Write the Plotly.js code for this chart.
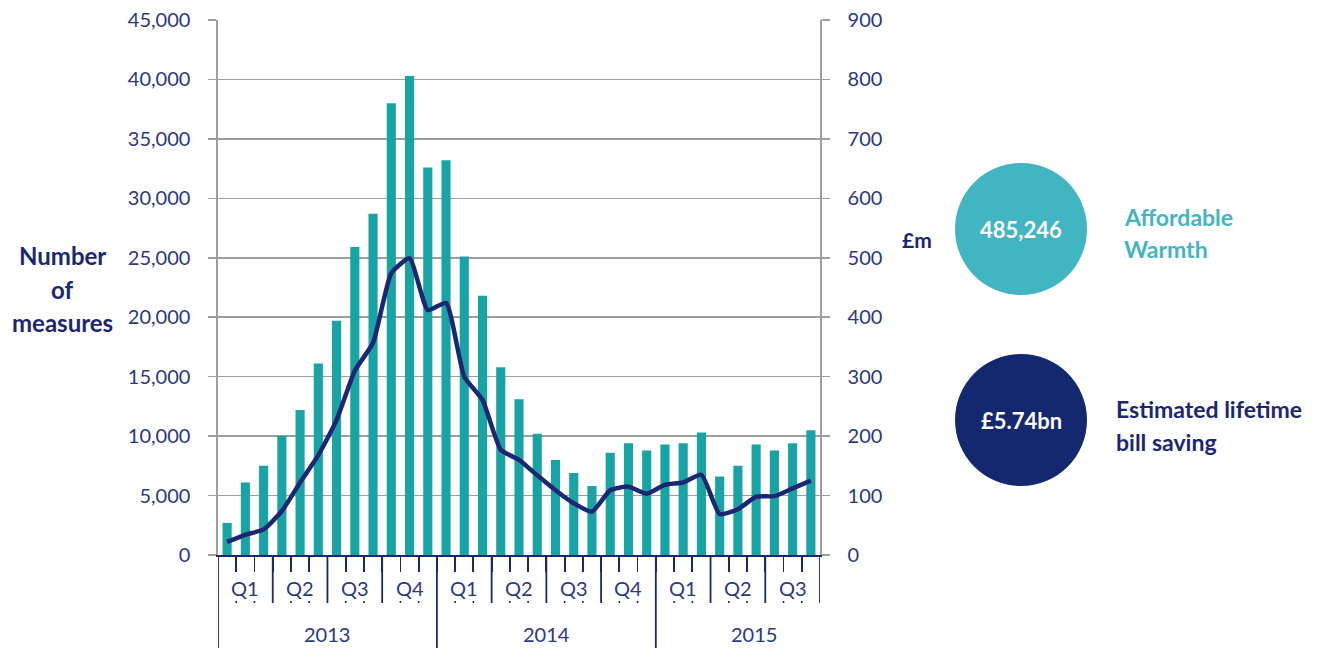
<!DOCTYPE html>
<html><head><meta charset="utf-8">
<script src="https://cdn.plot.ly/plotly-3.0.1.min.js"></script>
<style>html,body{margin:0;padding:0;background:#fff}#chart{width:1337px;height:648px}</style>
</head><body><div id="chart"></div>
<script>
// ---- data ----
const years = ['2013', '2014', '2015'];
const quarterLabels = ['Q1', 'Q2', 'Q3', 'Q4'];
const months = [
  'Jan 2013','Feb 2013','Mar 2013','Apr 2013','May 2013','Jun 2013','Jul 2013','Aug 2013','Sep 2013','Oct 2013','Nov 2013','Dec 2013',
  'Jan 2014','Feb 2014','Mar 2014','Apr 2014','May 2014','Jun 2014','Jul 2014','Aug 2014','Sep 2014','Oct 2014','Nov 2014','Dec 2014',
  'Jan 2015','Feb 2015','Mar 2015','Apr 2015','May 2015','Jun 2015','Jul 2015','Aug 2015','Sep 2015'
];
// Number of measures (left axis)
const measures = [
  2700, 6100, 7500, 10000, 12200, 16100, 19700, 25900, 28700, 38000, 40300, 32600,
  33200, 25100, 21800, 15800, 13100, 10200, 8000, 6900, 5800, 8600, 9400, 8800,
  9300, 9400, 10300, 6600, 7500, 9300, 8800, 9400, 10500
];
// Estimated lifetime bill saving, £m (right axis)
const savings = [
  22, 34, 43, 74, 122, 168, 227, 310, 357, 474, 499, 412,
  424, 300, 261, 177, 160, 134, 109, 87, 73, 109, 115, 103,
  118, 122, 135, 69, 77, 98, 99, 112, 125
];
const leftTicks = [0, 5000, 10000, 15000, 20000, 25000, 30000, 35000, 40000, 45000];
const rightTicks = [0, 100, 200, 300, 400, 500, 600, 700, 800, 900];
const totalMeasures = '485,246';
const totalSaving = '£5.74bn';
const labelMeasures = ['Number', 'of', 'measures'];
const labelUnit = '£m';
const labelAW = ['Affordable', 'Warmth'];
const labelSaving = ['Estimated lifetime', 'bill saving'];

// ---- styling ----
const TEAL = '#18a4a4';
const NAVY = '#1b2772';
const TICKC = '#2b3882';
const LIGHT = '#42b5c3';
const GRID = '#9e9e9e';
const FONT = 'Lato, "Open Sans", sans-serif';

const L = 218, T = 20, W = 602, H = 535;
const px2x = p => (p - L) / W;
const py2y = p => (T + H - p) / H;

const x = months.map((m, i) => i);

// group months into quarters and years
const quarters = [];
const yearGroups = [];
months.forEach((m, i) => {
  const yi = Math.floor(i / 12), qi = Math.floor((i % 12) / 3);
  const key = yi + '-' + qi;
  let q = quarters.find(o => o.key === key);
  if (!q) { q = {key, label: quarterLabels[qi], idx: []}; quarters.push(q); }
  q.idx.push(i);
  let y = yearGroups.find(o => o.label === years[yi]);
  if (!y) { y = {label: years[yi], idx: []}; yearGroups.push(y); }
  y.idx.push(i);
});
const mean = a => a.reduce((s, v) => s + v, 0) / a.length;

const shapes = [];
const annotations = [];

// quarter / year boundary lines
quarters.forEach((q, k) => {
  const start = q.idx[0] - 0.5;
  const isYearStart = q.idx[0] % 12 === 0;
  shapes.push({type: 'line', xref: 'x', yref: 'paper', x0: start, x1: start,
    y0: 0, y1: isYearStart ? py2y(660) : py2y(603), line: {color: NAVY, width: 1.8}});
  // small dots under inner month ticks
  q.idx.slice(1).forEach(i => {
    shapes.push({type: 'rect', xref: 'x', yref: 'paper', xsizemode: 'pixel', ysizemode: 'pixel',
      xanchor: i - 0.5, yanchor: py2y(602), x0: -0.8, x1: 0.8, y0: -1, y1: 1,
      fillcolor: NAVY, line: {width: 0}});
  });
  annotations.push({xref: 'x', yref: 'paper', x: mean(q.idx), y: py2y(588), text: q.label,
    showarrow: false, xanchor: 'center', yanchor: 'middle', font: {family: FONT, size: 20, color: TICKC}});
});
const lastEdge = months.length - 0.5;
shapes.push({type: 'line', xref: 'x', yref: 'paper', x0: lastEdge, x1: lastEdge,
  y0: 0, y1: py2y(603), line: {color: NAVY, width: 1.8}});
yearGroups.forEach((g, k) => {
  annotations.push({xref: 'x', yref: 'paper', x: mean(g.idx), y: py2y(634), text: g.label,
    showarrow: false, xanchor: 'center', yanchor: 'middle', xshift: g.idx.length < 12 ? 16 : 0,
    font: {family: FONT, size: 20, color: TICKC}});
});

// left label
[256, 289, 322].forEach((py, k) => {
  annotations.push({xref: 'paper', yref: 'paper', x: px2x(62), y: py2y(py), text: '<b>' + labelMeasures[k] + '</b>',
    showarrow: false, xanchor: 'center', yanchor: 'middle', font: {family: FONT, size: 24, color: NAVY}});
});
annotations.push({xref: 'paper', yref: 'paper', x: px2x(917), y: py2y(239), text: '<b>' + labelUnit + '</b>',
  showarrow: false, xanchor: 'center', yanchor: 'middle', font: {family: FONT, size: 21, color: NAVY}});

// circles
const circles = [
  {cx: 1021, cy: 229, r: 66, color: LIGHT, value: totalMeasures, lines: labelAW, lx: 1122, ly: [217, 249], lc: LIGHT},
  {cx: 1021, cy: 420, r: 66, color: '#14286f', value: totalSaving, lines: labelSaving, lx: 1114, ly: [409, 442], lc: NAVY}
];
circles.forEach(c => {
  shapes.push({type: 'circle', xref: 'paper', yref: 'paper', xsizemode: 'pixel', ysizemode: 'pixel',
    xanchor: px2x(c.cx), yanchor: py2y(c.cy), x0: -c.r, x1: c.r, y0: -c.r, y1: c.r,
    fillcolor: c.color, line: {width: 0}});
  annotations.push({xref: 'paper', yref: 'paper', x: px2x(c.cx), y: py2y(c.cy), text: '<b>' + c.value + '</b>',
    showarrow: false, xanchor: 'center', yanchor: 'middle', font: {family: FONT, size: 22, color: '#ffffff'}});
  c.lines.forEach((t, k) => {
    annotations.push({xref: 'paper', yref: 'paper', x: px2x(c.lx), y: py2y(c.ly[k]), text: '<b>' + t + '</b>',
      showarrow: false, xanchor: 'left', yanchor: 'middle', font: {family: FONT, size: 23, color: c.lc}});
  });
});

const traces = [
  {type: 'bar', x: x, y: measures, marker: {color: TEAL, line: {width: 0}}, width: 0.5, hoverinfo: 'skip'},
  {type: 'scatter', mode: 'lines', x: x, y: savings, yaxis: 'y2',
    line: {color: NAVY, width: 4.5, shape: 'spline', smoothing: 0.5}, hoverinfo: 'skip'}
];

const layout = {
  width: 1337, height: 648,
  margin: {l: L, r: 1337 - L - W, t: T, b: 648 - T - H, pad: 0},
  paper_bgcolor: '#fff', plot_bgcolor: '#fff',
  showlegend: false, hovermode: false,
  xaxis: {range: [-0.5, months.length - 0.5], showgrid: false, zeroline: false,
    showline: true, linecolor: NAVY, linewidth: 2,
    tickmode: 'array', tickvals: x.slice(1).map(i => i - 0.5), ticktext: x.slice(1).map(() => ''),
    ticks: 'outside', ticklen: 15, tickcolor: NAVY, tickwidth: 1.8, showticklabels: false, fixedrange: true},
  yaxis: {range: [0, 45000], tickmode: 'array', tickvals: leftTicks, tickformat: ',d',
    showgrid: true, gridcolor: GRID, gridwidth: 1.6, zeroline: false,
    showline: true, linecolor: GRID, linewidth: 1.6, ticks: 'outside', ticklen: 8, tickcolor: GRID, tickwidth: 1.6,
    ticklabelstandoff: 14, tickfont: {family: FONT, size: 20, color: TICKC}, fixedrange: true},
  yaxis2: {range: [0, 900], overlaying: 'y', side: 'right', tickmode: 'array', tickvals: rightTicks,
    showgrid: false, zeroline: false, showline: true, linecolor: GRID, linewidth: 1.6,
    ticks: 'outside', ticklen: 8, tickcolor: GRID, tickwidth: 1.6, ticklabelstandoff: 14,
    tickfont: {family: FONT, size: 20, color: TICKC}, fixedrange: true},
  shapes: shapes,
  annotations: annotations,
  bargap: 0.5
};

Plotly.newPlot('chart', traces, layout, {displayModeBar: false, staticPlot: true});
</script>
</body></html>
